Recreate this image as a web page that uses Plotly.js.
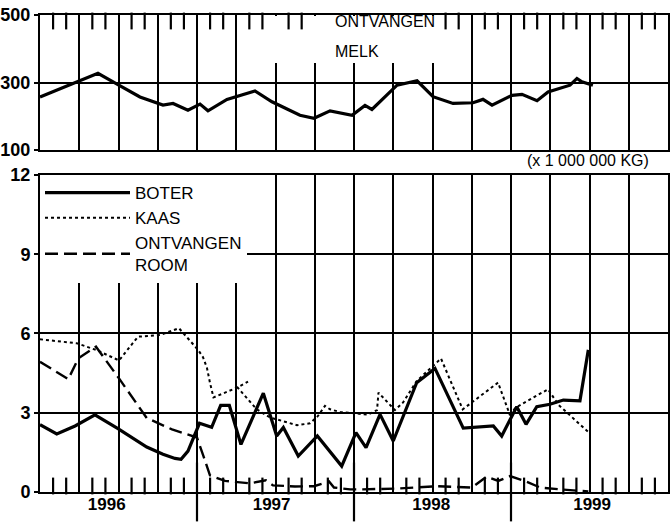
<!DOCTYPE html>
<html>
<head>
<meta charset="utf-8">
<script src="https://cdn.plot.ly/plotly-3.0.1.min.js"></script>
<style>html,body{margin:0;padding:0;background:#fff;}#chart{width:672px;height:523px;}</style>
</head>
<body>
<div id="chart"></div>
<script>
// x values: months since January 1996
const melkMonth = [0, 2.83, 4.43, 5.89, 7.64, 9.40, 10.17, 11.31, 12.23, 12.84, 14.29, 16.43, 17.73, 19.87, 20.94, 22.17, 23.85, 24.84, 25.37, 27.29, 28.82, 30.04, 31.57, 33.10, 33.86, 34.55, 36.08, 36.84, 37.99, 38.83, 40.51, 41.04, 41.42, 42.26];
const melkValue = [257, 302, 327, 295, 257, 233, 238, 218, 236, 216, 250, 275, 243, 203, 194, 216, 203, 232, 220, 292, 305, 258, 238, 240, 250, 233, 262, 265, 246, 272, 292, 312, 302, 292];

const boterMonth = [0, 1.28, 2.68, 4.20, 5.96, 7.03, 8.16, 9.40, 10.32, 10.78, 11.31, 12.19, 13.12, 13.81, 14.47, 15.36, 17.07, 18.09, 18.60, 19.74, 21.20, 23.06, 24.15, 24.92, 25.99, 27.00, 28.79, 30.19, 32.35, 34.65, 35.29, 36.44, 37.15, 37.97, 38.98, 40.00, 41.27, 41.91];
const boterValue = [2.55, 2.2, 2.5, 2.92, 2.4, 2.05, 1.7, 1.43, 1.27, 1.24, 1.55, 2.6, 2.45, 3.28, 3.28, 1.8, 3.74, 2.12, 2.44, 1.36, 2.12, 0.98, 2.25, 1.68, 2.94, 1.93, 4.14, 4.68, 2.42, 2.5, 2.12, 3.23, 2.56, 3.23, 3.32, 3.48, 3.45, 5.38];

const kaasMonth = [0, 2.81, 4.33, 6.04, 7.49, 9.17, 10.62, 12.10, 12.46, 12.76, 12.99, 13.26, 15.06, 15.90, null, 15.06, 16.56, 17.58, 18.57, 19.64, 20.64, 21.20, 21.78, 22.17, 22.93, 25.07, 25.76, 25.87, 27.13, 27.75, 28.79, 29.81, 30.65, 32.31, 35.01, 35.89, 36.38, 38.83, 39.62, 41.96];
const kaasValue = [5.78, 5.63, 5.37, 4.98, 5.88, 5.94, 6.2, 5.37, 5.1, 4.7, 4.14, 3.58, 3.95, 4.18, null, 3.98, 3.13, 2.82, 2.68, 2.53, 2.6, 2.85, 3.26, 3.13, 3.03, 2.93, 3.1, 3.76, 3.1, 3.39, 4.2, 4.65, 5.05, 3.13, 4.14, 2.95, 3.2, 3.89, 3.3, 2.25];

const roomMonth = [0, 2.16, 2.93, 4.28, 6.04, 8.16, 10.09, 12.00, 12.50, 12.99, 14.14, 16.05, 17.27, 17.81, 19.49, 20.94, 22.09, 22.47, 23.70, 24.69, 27.29, 29.27, 30.34, 33.02, 34.14, 35.03, 35.92, 37.20, 38.22, 39.75, 41.05, 41.91];
const roomValue = [4.93, 4.27, 5.06, 5.5, 4.3, 2.8, 2.37, 2.06, 1.35, 0.63, 0.42, 0.33, 0.44, 0.25, 0.21, 0.22, 0.4, 0.17, 0.1, 0.1, 0.13, 0.17, 0.22, 0.17, 0.58, 0.42, 0.6, 0.39, 0.17, 0.1, 0.04, 0.02];

const yearLabels = ['1996', '1997', '1998', '1999'];
const yearLabelPos = [5.1, 17.7, 29.9, 42.2];
const yearBoundaries = [12, 24, 36];
// monthly tick marks (months that are not quarter gridlines)
const bottomMonthTicks = [1, 2, 4, 5, 7, 8, 10, 11, 13, 14, 16, 17, 19, 20, 22, 23, 25, 26, 28, 29, 31, 32, 34, 35, 37, 38, 40, 41, 43, 44, 46, 47];
const topMonthTicks = [1, 2, 4, 5, 7, 8, 10, 11, 13, 14, 16, 17, 19, 20, 31, 32, 34, 35, 37, 38, 40, 41, 43, 44, 46, 47];
const bottomTicks = [0, 3, 6, 9, 12];
const topTicks = [100, 300, 500];
const seriesNames = ['BOTER', 'KAAS', 'ONTVANGEN<br>ROOM', 'ONTVANGEN MELK'];

const FONT = 'Liberation Sans, Arial, sans-serif';
const XR = [0, 48];
const YR_BOTTOM = [0, 12];
const YR_TOP = [100, 500];

// figure geometry
const W = 672, H = 523, M = {l: 40, r: 4, t: 15, b: 31};
const DOM_BOTTOM = [0, 0.6646], DOM_TOP = [0.717, 1];
const plotH = H - M.t - M.b;
const TICK_LEN = 12;
// data-unit offset of half a tick length, so an un-clipped tick marker sits inside the frame
function halfTick(range, dom) {
  return (range[1] - range[0]) * (TICK_LEN / 2) / (plotH * (dom[1] - dom[0]));
}

function helper(xa, ya) {
  return {x: [], y: [], type: 'scatter', mode: 'lines', showlegend: false, hoverinfo: 'skip', xaxis: xa, yaxis: ya};
}
function tickMarks(xs, yVal, size, xa, ya) {
  return {x: xs, y: xs.map(() => yVal), type: 'scatter', mode: 'markers', showlegend: false, hoverinfo: 'skip',
    cliponaxis: false, xaxis: xa, yaxis: ya,
    marker: {symbol: 'line-ns', size: size, color: '#000', line: {width: 2.2, color: '#000'}}};
}

const traces = [
  {x: boterMonth, y: boterValue, name: seriesNames[0], type: 'scatter', mode: 'lines',
   line: {color: '#000', width: 3.2}, legendgroup: 'a', xaxis: 'x', yaxis: 'y'},
  {x: kaasMonth, y: kaasValue, name: seriesNames[1], type: 'scatter', mode: 'lines',
   line: {color: '#000', width: 2, dash: '3px,3px'}, legendgroup: 'b', xaxis: 'x', yaxis: 'y'},
  {x: roomMonth, y: roomValue, name: seriesNames[2], type: 'scatter', mode: 'lines',
   line: {color: '#000', width: 2.4, dash: '13px,6px'}, legendgroup: 'c', xaxis: 'x', yaxis: 'y'},
  {x: melkMonth, y: melkValue, name: seriesNames[3], type: 'scatter', mode: 'lines',
   line: {color: '#000', width: 3.2}, showlegend: false, xaxis: 'x2', yaxis: 'y2'},
  // axis tick marks (months inside the frame, year boundaries below the axis)
  tickMarks(bottomMonthTicks, YR_BOTTOM[0] + halfTick(YR_BOTTOM, DOM_BOTTOM), TICK_LEN, 'x', 'y'),
  tickMarks(topMonthTicks, YR_TOP[1] - halfTick(YR_TOP, DOM_TOP), TICK_LEN, 'x2', 'y2'),
  tickMarks(yearBoundaries, YR_BOTTOM[0], 42, 'x', 'y'),
  helper('x3', 'y')
];

const gridStyle = {showgrid: true, gridcolor: '#000', gridwidth: 2};
const layout = {
  width: W, height: H,
  margin: M,
  paper_bgcolor: '#fff', plot_bgcolor: '#fff',
  font: {family: FONT, color: '#000', size: 15},
  showlegend: true,
  legend: {x: 0, y: DOM_BOTTOM[1], xanchor: 'left', yanchor: 'top', bgcolor: '#fff', borderwidth: 0,
           font: {family: FONT, size: 17, color: '#000'}, itemwidth: 85, tracegroupgap: 21,
           traceorder: 'normal'},
  xaxis: Object.assign({}, gridStyle, {
    range: XR, anchor: 'y', tick0: 0, dtick: 3, ticks: '', showticklabels: false,
    showline: true, linecolor: '#000', linewidth: 2, mirror: true, zeroline: false
  }),
  xaxis3: {range: XR, overlaying: 'x', anchor: 'y', side: 'bottom', tickmode: 'array',
    tickvals: yearLabelPos, ticktext: yearLabels, ticks: '', showgrid: false, showline: false, zeroline: false,
    tickfont: {family: FONT, size: 17, weight: 'bold', color: '#000'}},
  yaxis: Object.assign({}, gridStyle, {
    domain: DOM_BOTTOM, range: YR_BOTTOM, anchor: 'x', tickmode: 'array', tickvals: bottomTicks,
    ticks: 'outside', ticklen: 4, tickwidth: 2, tickcolor: '#000',
    showline: true, linecolor: '#000', linewidth: 2, mirror: true, zeroline: false,
    tickfont: {family: FONT, size: 18, weight: 'bold', color: '#000'}
  }),
  xaxis2: Object.assign({}, gridStyle, {
    range: XR, anchor: 'y2', side: 'top', tick0: 0, dtick: 3, ticks: '', showticklabels: false,
    showline: true, linecolor: '#000', linewidth: 2, mirror: true, zeroline: false
  }),
  yaxis2: Object.assign({}, gridStyle, {
    domain: DOM_TOP, range: YR_TOP, anchor: 'x2', tickmode: 'array', tickvals: topTicks,
    ticks: 'outside', ticklen: 4, tickwidth: 2, tickcolor: '#000',
    showline: true, linecolor: '#000', linewidth: 2, mirror: true, zeroline: false,
    tickfont: {family: FONT, size: 18, weight: 'bold', color: '#000'}
  }),
  shapes: [
    {type: 'rect', xref: 'x2', yref: 'y2', x0: 17.5, x1: 30.5, y0: 358, y1: 497,
     fillcolor: '#fff', line: {width: 0}, layer: 'between'}
  ],
  annotations: [
    {xref: 'x2', yref: 'y2', x: 22.4, y: 480, text: 'ONTVANGEN', showarrow: false,
     xanchor: 'left', yanchor: 'middle', font: {family: FONT, size: 16, color: '#000'}},
    {xref: 'x2', yref: 'y2', x: 22.4, y: 393, text: 'MELK', showarrow: false,
     xanchor: 'left', yanchor: 'middle', font: {family: FONT, size: 16, color: '#000'}},
    {xref: 'paper', yref: 'paper', x: 0.973, y: 0.694, text: '(x 1 000 000 KG)', showarrow: false,
     xanchor: 'right', yanchor: 'middle', font: {family: FONT, size: 16, color: '#000'}}
  ]
};

Plotly.newPlot('chart', traces, layout, {displayModeBar: false, staticPlot: true});
</script>
</body>
</html>
